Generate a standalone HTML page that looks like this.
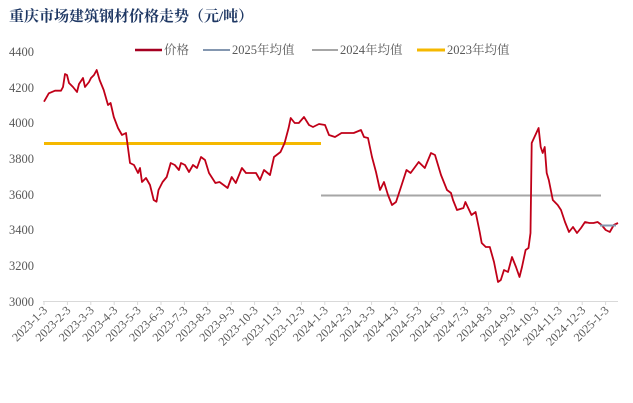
<!DOCTYPE html>
<html><head><meta charset="utf-8"><style>
html,body{margin:0;padding:0;background:#fff;}
svg{display:block;}
</style></head><body>
<svg width="633" height="403" xmlns="http://www.w3.org/2000/svg">
<text x="9" y="21" font-family="'Liberation Serif','Noto Serif CJK SC',serif" font-size="15" font-weight="bold" fill="#1f3864">重庆市场建筑钢材价格走势（元/吨）</text>
<g font-family="'Liberation Serif',serif" font-size="12.5" fill="#595959" text-anchor="end">
<text x="34" y="56">4400</text>
<text x="34" y="92">4200</text>
<text x="34" y="127">4000</text>
<text x="34" y="163">3800</text>
<text x="34" y="199">3600</text>
<text x="34" y="234">3400</text>
<text x="34" y="270">3200</text>
<text x="34" y="306">3000</text>
</g>
<line x1="43" y1="301.5" x2="618" y2="301.5" stroke="#d9d9d9" stroke-width="1"/>
<g id="ticks" stroke="#d9d9d9" stroke-width="1"></g>
<g font-family="'Liberation Serif',serif" font-size="12" fill="#595959" text-anchor="end" id="xl"></g>
<g font-family="'Liberation Serif','Noto Serif CJK SC',serif" font-size="12.5" fill="#595959">
<line x1="135" y1="50" x2="162" y2="50" stroke="#a50021" stroke-width="2.5"/>
<text x="164" y="54">价格</text>
<line x1="203" y1="50" x2="230" y2="50" stroke="#8497b0" stroke-width="2"/>
<text x="232" y="54">2025年均值</text>
<line x1="312" y1="50" x2="338" y2="50" stroke="#a6a6a6" stroke-width="2"/>
<text x="340" y="54">2024年均值</text>
<line x1="417" y1="50" x2="445" y2="50" stroke="#f5b800" stroke-width="3"/>
<text x="447" y="54">2023年均值</text>
</g>
<line x1="44" y1="143.5" x2="321" y2="143.5" stroke="#f5b800" stroke-width="3"/>
<line x1="321" y1="195.5" x2="601" y2="195.5" stroke="#a6a6a6" stroke-width="2"/>
<polyline fill="none" stroke="#c00018" stroke-width="1.8" stroke-linejoin="round" points="44,101.7 48.8,93.3 55,90.7 61,90.7 63,87 65,74 67,75 69,83 73,87 77,92 79,84 83,78 85,87 89,82 91,78 94,75 96.7,70 99.6,80 103.7,90 108,105 110.6,103 113.8,117 118,128 122,135 126,133 130,163 134,165 138,173 140,168 142,182 146,178 150,185 153.7,200 156.5,201.7 158.5,190 162.6,182 166.7,177 170.7,163 174.8,165 178.9,170 181,163 185,165 189,172 193,165 197,168 201,157 205,160 209,173 215.4,183 219.5,182 223.6,185 227.6,188 231.7,177 235.8,183 241.9,168 246,173 256,173 260,180 264,170 270,175 274,157 280.5,152 284.6,143 288.6,128 290.7,118 294.7,123 298.8,123 304,117 309,125 313,127 319,124 325,125 329,135 335,137 341.5,133 353.7,133 361,130 364,137 368,138 372,157 376,172 380,190 384,182 388,195 392,205 396,202 400,190 406.5,170 410.6,173 418.7,162 424.8,168 431,153 435,155 441,175 447,190 451,193 453,200 457,210 463.4,208 465.4,202 471.5,215 475.6,212 479.7,232 481.7,243 485.8,247 489.8,247 494,262 498,282 500.8,280 504,270 508,272 512,257 516,267 519.5,277 522,267 525.6,250 528.5,248 530.5,233 531.7,143 538.6,128 540.7,147 542.7,153 544.7,147 546.7,173 548.8,180 552.8,200 557.7,205 561,210 565,222 569,232 573,227 577,233 581,228 585,222 589.4,223 593.5,223 597.6,222 601.6,225 605.7,230 609.8,232 613.8,225 618,223"/>
<line x1="600" y1="225.5" x2="616" y2="225.5" stroke="#8497b0" stroke-width="2"/>
<script>
var labels=["2023-1-3","2023-2-3","2023-3-3","2023-4-3","2023-5-3","2023-6-3","2023-7-3","2023-8-3","2023-9-3","2023-10-3","2023-11-3","2023-12-3","2024-1-3","2024-2-3","2024-3-3","2024-4-3","2024-5-3","2024-6-3","2024-7-3","2024-8-3","2024-9-3","2024-10-3","2024-11-3","2024-12-3","2025-1-3"];
var ns="http://www.w3.org/2000/svg",t=document.getElementById("ticks"),xl=document.getElementById("xl");
labels.forEach(function(s,i){var x=44+i*23.4;
var l=document.createElementNS(ns,"line");l.setAttribute("x1",x);l.setAttribute("x2",x);l.setAttribute("y1",301);l.setAttribute("y2",305);t.appendChild(l);
var tx=document.createElementNS(ns,"text");tx.setAttribute("transform","translate("+(x+4)+",311) rotate(-45)");tx.textContent=s;xl.appendChild(tx);});
</script>
</svg>
</body></html>
